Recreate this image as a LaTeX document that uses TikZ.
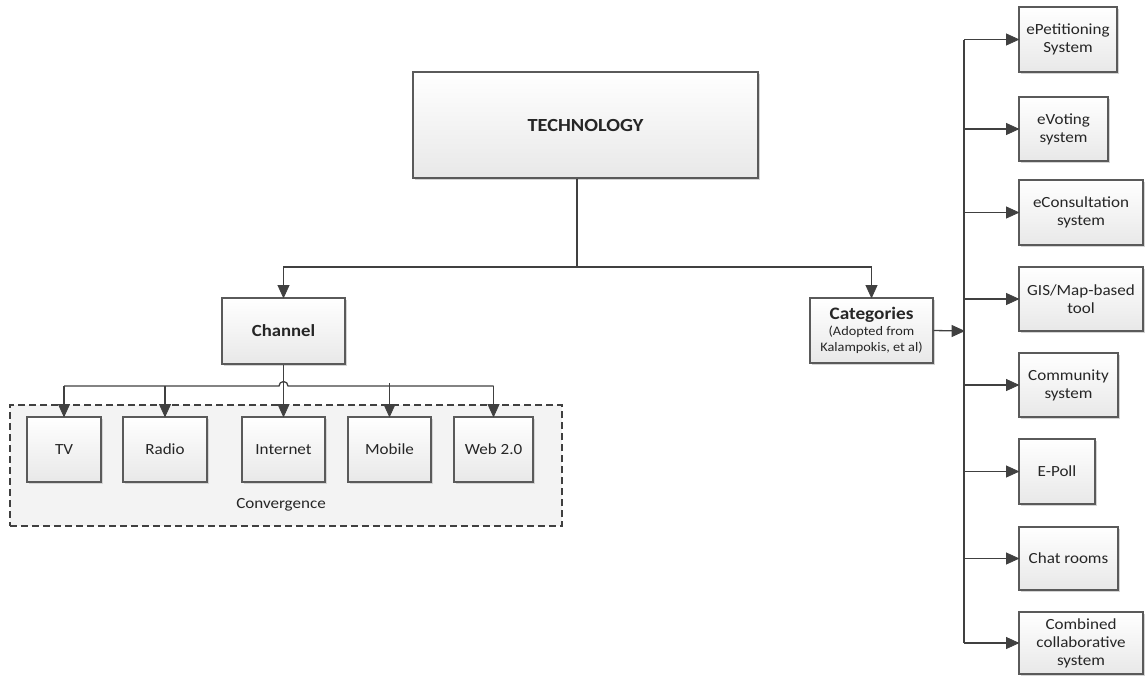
\documentclass[tikz,border=0pt]{standalone}
\usepackage{fontspec}
\setmainfont{Carlito}[FakeStretch=1.1]
\definecolor{linec}{HTML}{404040}
\definecolor{boxline}{HTML}{5A5A5A}
\definecolor{convfill}{HTML}{F3F3F3}
\definecolor{shadowc}{HTML}{D4D4D4}
\tikzset{
  box/.style={draw=boxline, line width=1.1pt, top color=white, bottom color=black!9,
    preaction={fill=shadowc, transform canvas={shift={(1.8pt,-1.8pt)}}},
    align=center, inner sep=2pt, text=black!85,
    font=\fontsize{15.5}{18}\selectfont},
  conn/.style={draw=linec, line width=1.3pt},
  headfill/.style={fill=linec, draw=linec, line width=0.8pt, line join=miter},
  convbox/.style={draw=linec, line width=1.1pt, dash pattern=on 7pt off 4pt, fill=convfill}
}
\newcommand{\bx}[5]{\node[box, minimum width=#3, minimum height=#4] (#1) at (#2) {#5};}
% arrowheads whose point touches the given node anchor
\newcommand{\headdown}[1]{\path[headfill] (#1) -- ++(-5.5,-12) -- ++(11,0) -- cycle;}
\newcommand{\headright}[1]{\path[headfill] (#1) -- ++(-12,-5.5) -- ++(0,11) -- cycle;}
\begin{document}
\begin{tikzpicture}[x=1pt, y=-1pt]
\useasboundingbox (0,0) rectangle (1145,675);

% convergence group behind the channel boxes
\node[convbox, minimum width=552, minimum height=121, inner sep=0pt] (conv) at (286,465.5) {};
\node[font=\fontsize{15.5}{18}\selectfont, text=black!85] (convlbl) at (281,505) {Convergence};

% top level
\bx{tech}{585.5,125}{345}{106}{\fontsize{18.5}{21}\selectfont\bfseries TECHNOLOGY}
\bx{chan}{283.5,331}{123}{66}{\fontsize{17}{20}\selectfont\bfseries Channel}
\node[box, minimum width=123, minimum height=65, inner sep=1pt,
      font=\fontsize{13}{16}\selectfont] (cat) at (871.5,330.5)
  {\textbf{\fontsize{17.5}{19}\selectfont Categories}\\(Adopted from\\Kalampokis, et al)};

% channel types
\bx{tv}{64,449.5}{74}{65}{TV}
\bx{radio}{165,449.5}{84}{65}{Radio}
\bx{inet}{283.5,449.5}{83}{65}{Internet}
\bx{mob}{389.5,449.5}{83}{65}{Mobile}
\bx{web}{493.5,449.5}{79}{65}{Web 2.0}

% categories
\bx{pet}{1068,39.5}{98}{65}{ePetitioning\\System}
\bx{vote}{1063.5,129}{89}{64}{eVoting\\system}
\bx{cons}{1081,212.5}{124}{65}{eConsultation\\system}
\bx{gis}{1081,299}{124}{64}{GIS/Map-based\\tool}
\bx{comm}{1068.5,385}{99}{64}{Community\\system}
\bx{poll}{1057,471.5}{76}{65}{E-Poll}
\bx{chat}{1068.5,558.5}{99}{63}{Chat rooms}
\bx{comb}{1081,643}{124}{62}{Combined\\collaborative\\system}

% junction points
\coordinate (tj) at (577,267);
\coordinate (cj) at (283.5,386);
\coordinate (rb) at (964,331);

% technology split
\draw[conn] (tech.south -| tj) -- (tj);
\draw[conn] (tj) -| (chan.north); \headdown{chan.north}
\draw[conn] (tj) -| (cat.north);  \headdown{cat.north}

% channel bus with a hop over the channel drop
\draw[conn] (tv.north |- cj) -- ([xshift=-4.5pt]cj)
  arc[start angle=180, end angle=0, radius=4.5pt] -- (web.north |- cj);
\draw[conn] (chan.south) -- (inet.north);               \headdown{inet.north}
\draw[conn] (tv.north |- cj) -- (tv.north);             \headdown{tv.north}
\draw[conn] (radio.north |- cj) -- (radio.north);       \headdown{radio.north}
\draw[conn] ([yshift=3pt]mob.north |- cj) -- (mob.north); \headdown{mob.north}
\draw[conn] (web.north |- cj) -- (web.north);           \headdown{web.north}

% categories bus
\draw[conn] (cat.east) -- (rb); \headright{rb}
\draw[conn] (rb |- pet.west) -- (rb |- comb.west);
\foreach \n in {pet,vote,cons,gis,comm,poll,chat,comb}{
  \draw[conn] (rb |- \n.west) -- (\n.west); \headright{\n.west}
}
\end{tikzpicture}
\end{document}
